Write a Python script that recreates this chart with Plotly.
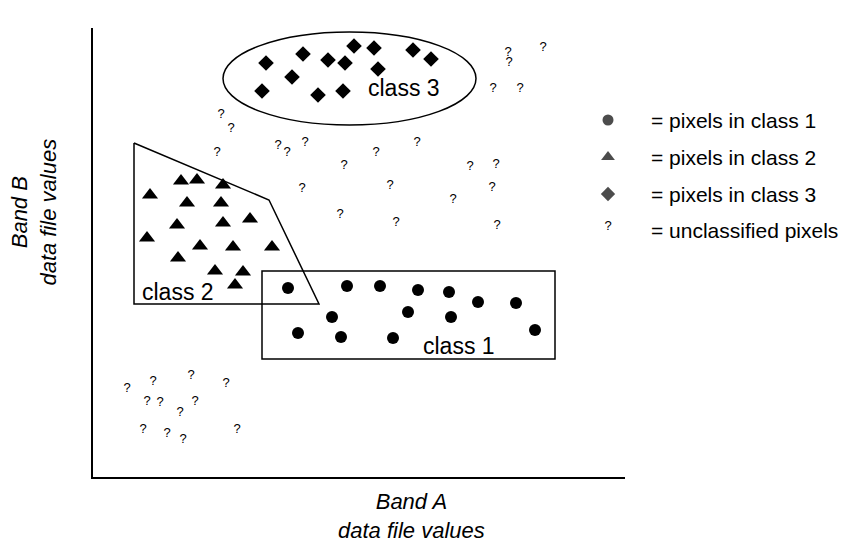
import plotly.graph_objects as go

# Data (arbitrary "data file value" units; origin at the axes corner)
class1_x = [195, 254, 287, 325, 356, 385, 423, 315, 358, 239, 205, 248, 300, 442]
class1_y = [189, 191, 191, 187, 185, 175, 174, 165, 160, 160, 144, 140, 139, 147]

class2_x = [88, 104, 130, 57, 94, 128, 84, 130, 157, 54, 107, 140, 179, 85, 122, 150, 142]
class2_y = [296, 297, 292, 282, 274, 274, 252, 254, 258, 239, 231, 230, 230, 219, 206, 205, 192]

class3_x = [173, 210, 261, 281, 320, 338, 235, 252, 285, 199, 169, 225, 250]
class3_y = [414, 423, 431, 429, 427, 418, 417, 414, 408, 400, 386, 382, 386]

uncl_x = [415, 416, 450, 400, 427, 128, 138, 185, 194, 212, 124, 251, 283, 324, 377, 403,
          209, 297, 399, 360, 247, 303, 404,
          34, 60, 98, 133, 54, 67, 87, 102, 50, 74, 90, 144]
uncl_y = [424, 414, 429, 388, 388, 362, 348, 331, 324, 334, 324, 311, 324, 334, 310, 312,
          288, 291, 289, 277, 262, 254, 251,
          88, 95, 101, 93, 75, 74, 64, 75, 47, 43, 37, 47]

# Class boundaries
ellipse_x = [130, 383]
ellipse_y = [352, 445]
poly_x = [41, 176, 226, 41, 41]
poly_y = [334, 277, 173, 173, 334]
rect_x = [169, 462]
rect_y = [118, 206]

labels = ["class 1", "class 2", "class 3"]
label_x = [366, 85, 311]
label_y = [131, 185, 389]

legend_text = ["= pixels in class 1", "= pixels in class 2", "= pixels in class 3", "= unclassified pixels"]
legend_y = [357, 320, 283, 246]
legend_mx = 515
legend_tx = 556

X_MAX = 532
Y_MAX = 449

FONT = "Liberation Sans, Arial, sans-serif"

fig = go.Figure()

fig.add_trace(go.Scatter(x=class1_x, y=class1_y, mode="markers",
                         marker=dict(symbol="circle", size=12, color="black", line_width=0)))
fig.add_trace(go.Scatter(x=class2_x, y=class2_y, mode="markers",
                         marker=dict(symbol="triangle-up", size=14, color="black", line_width=0)))
fig.add_trace(go.Scatter(x=class3_x, y=class3_y, mode="markers",
                         marker=dict(symbol="diamond", size=12, color="black", line_width=0)))
fig.add_trace(go.Scatter(x=uncl_x, y=uncl_y, mode="text", text=["?"] * len(uncl_x),
                         textposition="middle center",
                         textfont=dict(family=FONT, size=13, color="black")))

# Legend markers
fig.add_trace(go.Scatter(x=[legend_mx] * 3, y=legend_y[:3], mode="markers", cliponaxis=False,
                         marker=dict(symbol=["circle", "triangle-up", "diamond"], size=[11, 12, 11],
                                     color="black", line_width=0)))
fig.add_trace(go.Scatter(x=[legend_mx], y=[legend_y[3] + 4], mode="text", text=["?"], cliponaxis=False,
                         textposition="middle center",
                         textfont=dict(family=FONT, size=13, color="black")))

# Boundaries
fig.add_shape(type="circle", xref="x", yref="y", x0=ellipse_x[0], x1=ellipse_x[1],
              y0=ellipse_y[0], y1=ellipse_y[1], line=dict(color="black", width=1.5))
fig.add_trace(go.Scatter(x=poly_x, y=poly_y, mode="lines", line=dict(color="black", width=1.5)))
fig.add_shape(type="rect", xref="x", yref="y", x0=rect_x[0], x1=rect_x[1],
              y0=rect_y[0], y1=rect_y[1], line=dict(color="black", width=1.5))

for t, x, y in zip(labels, label_x, label_y):
    fig.add_annotation(x=x, y=y, text=t, showarrow=False, xanchor="center", yanchor="middle",
                       font=dict(family=FONT, size=23, color="black"))

for t, y in zip(legend_text, legend_y):
    fig.add_annotation(xref="paper", yref="paper", x=legend_tx / X_MAX, y=y / Y_MAX, text=t,
                       showarrow=False, xanchor="left", yanchor="middle",
                       font=dict(family=FONT, size=21, color="black"))

# Axis titles
fig.add_annotation(xref="paper", yref="paper", x=-0.11, y=0.59, text="<i>Band B<br>data file values</i>",
                   textangle=-90, showarrow=False, xanchor="center", yanchor="middle",
                   font=dict(family=FONT, size=22, color="black"))
fig.add_annotation(xref="paper", yref="paper", x=0.598, y=-0.087, text="<i>Band A<br>data file values</i>",
                   showarrow=False, xanchor="center", yanchor="middle",
                   font=dict(family=FONT, size=22, color="black"))

# Page body has an 8px margin; margins compensate so the axes land where the reference has them
fig.update_layout(
    width=855, height=555,
    margin=dict(l=85, r=238, t=20, b=86),
    paper_bgcolor="white", plot_bgcolor="white",
    showlegend=False,
    xaxis=dict(range=[0, X_MAX], showline=True, linecolor="black", linewidth=2, mirror=False,
               showgrid=False, zeroline=False, showticklabels=False, ticks=""),
    yaxis=dict(range=[0, Y_MAX], showline=True, linecolor="black", linewidth=2, mirror=False,
               showgrid=False, zeroline=False, showticklabels=False, ticks=""),
)

fig.write_html("out.html")
